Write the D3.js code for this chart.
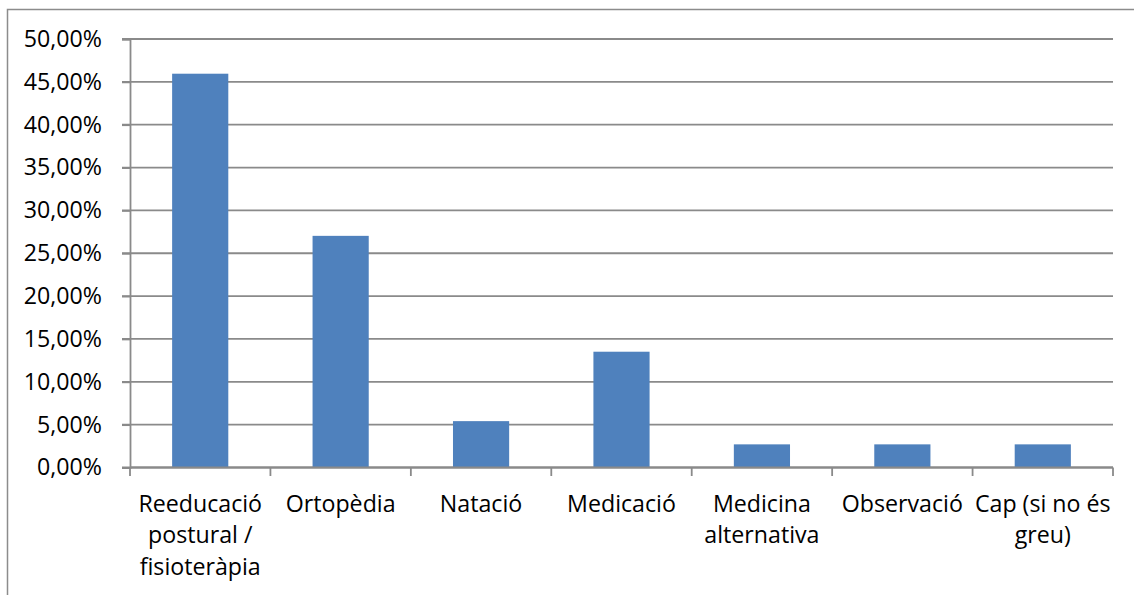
<!DOCTYPE html>
<html>
<head>
<meta charset="utf-8">
<script src="https://cdn.jsdelivr.net/npm/d3@7"></script>
<style>
  body { margin: 0; background: #fff; }
  svg { display: block; }
  text { font-family: "Open Sans", sans-serif; font-size: 23.2px; fill: #000; }
</style>
</head>
<body>
<svg id="chart" width="1134" height="595"></svg>
<script>
// Treatment categories and share of responses (%)
const categories = [
  "Reeducació postural / fisioteràpia",
  "Ortopèdia",
  "Natació",
  "Medicació",
  "Medicina alternativa",
  "Observació",
  "Cap (si no és greu)"
];
const values = [45.95, 27.03, 5.41, 13.51, 2.70, 2.70, 2.70];
const yTicks = [0, 5, 10, 15, 20, 25, 30, 35, 40, 45, 50];

const W = 1134, H = 595;
const plot = { left: 130, right: 1113, top: 39, bottom: 467.5 };
const gridColor = "#8a8a8a";
const fontCss = "'Open Sans', sans-serif";
const fontSize = "23.2px";

const svg = d3.select("#chart");

// Outer chart frame (top and left edges visible)
svg.append("path")
  .attr("d", `M7.5,${H} L7.5,9.5 L${W},9.5`)
  .attr("fill", "none")
  .attr("stroke", "#8c8c8c")
  .attr("stroke-width", 1.5);

const y = d3.scaleLinear().domain([0, 50]).range([plot.bottom, plot.top]);
const x = d3.scaleBand().domain(categories).range([plot.left, plot.right]).padding(0);
const xBar = d3.scaleBand().domain(categories).range([plot.left, plot.right])
  .paddingInner(0.6).paddingOuter(0.3);

const fmt = v => d3.format(".2f")(v).replace(".", ",") + "%";

// Horizontal gridlines
svg.append("g")
  .selectAll("line")
  .data(yTicks)
  .join("line")
  .attr("x1", plot.left - 8)
  .attr("x2", plot.right)
  .attr("y1", d => y(d))
  .attr("y2", d => y(d))
  .attr("stroke", gridColor)
  .attr("stroke-width", 1.8);

// Y axis with tick labels
const yAxis = svg.append("g")
  .attr("transform", `translate(${plot.left},0)`)
  .call(d3.axisLeft(y).tickValues(yTicks).tickFormat(fmt).tickSize(8).tickPadding(20));
yAxis.selectAll("path, line").attr("stroke", gridColor).attr("stroke-width", 1.8);
yAxis.selectAll("text")
  .attr("font-family", null).attr("font-size", null)
  .style("font-family", fontCss).style("font-size", fontSize).attr("fill", "#000");

// Bars
svg.append("g")
  .selectAll("rect")
  .data(categories.map((c, i) => ({ c, v: values[i] })))
  .join("rect")
  .attr("x", d => xBar(d.c))
  .attr("width", xBar.bandwidth())
  .attr("y", d => y(d.v))
  .attr("height", d => y(0) - y(d.v))
  .attr("fill", "#4f81bd");

// X axis line and boundary ticks between categories
const xAxis = svg.append("g");
xAxis.append("line")
  .attr("x1", plot.left).attr("x2", plot.right)
  .attr("y1", y(0)).attr("y2", y(0))
  .attr("stroke", gridColor).attr("stroke-width", 1.8);
const bounds = categories.map(c => x(c)).concat([x.range()[1]]);
xAxis.selectAll("line.tick")
  .data(bounds)
  .join("line")
  .attr("class", "tick")
  .attr("x1", d => d).attr("x2", d => d)
  .attr("y1", y(0)).attr("y2", y(0) + 8.5)
  .attr("stroke", gridColor).attr("stroke-width", 1.8);

// Category labels, wrapped to the category width
const lineH = 31.5;
const firstBaseline = 511.5;
const labels = svg.append("g");
categories.forEach(c => {
  const cx = x(c) + x.bandwidth() / 2;
  const t = labels.append("text")
    .attr("x", cx)
    .attr("y", firstBaseline)
    .attr("text-anchor", "middle");
  const words = c.split(" ");
  let line = [];
  let lineNo = 0;
  let tspan = t.append("tspan").attr("x", cx).attr("y", firstBaseline);
  words.forEach(w => {
    line.push(w);
    tspan.text(line.join(" "));
    if (tspan.node().getComputedTextLength() > x.bandwidth() && line.length > 1) {
      line.pop();
      tspan.text(line.join(" "));
      line = [w];
      lineNo++;
      tspan = t.append("tspan").attr("x", cx).attr("y", firstBaseline + lineNo * lineH).text(w);
    }
  });
});
</script>
</body>
</html>
